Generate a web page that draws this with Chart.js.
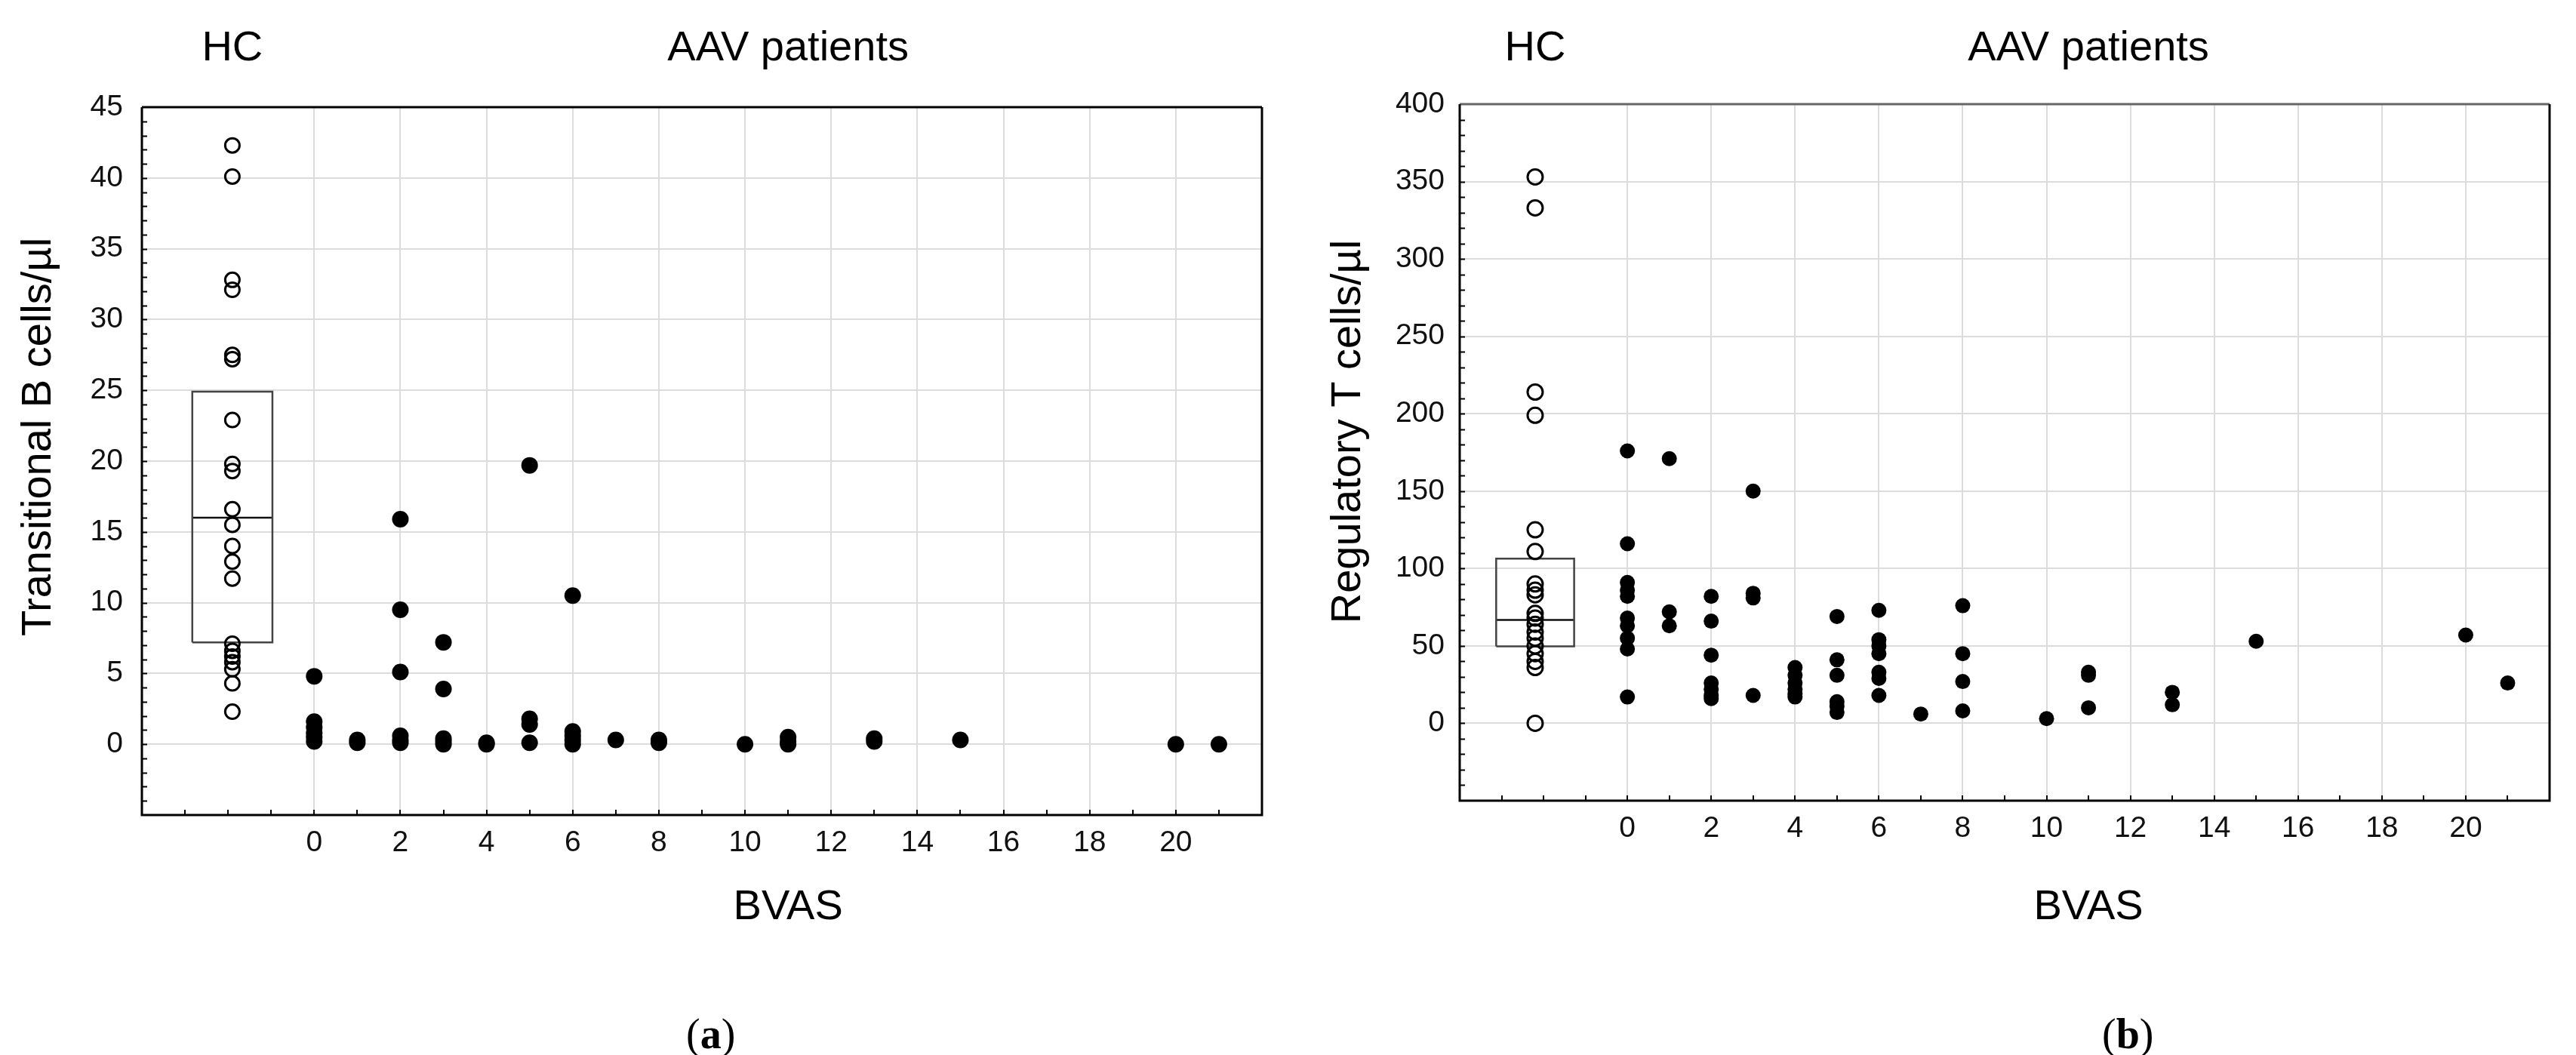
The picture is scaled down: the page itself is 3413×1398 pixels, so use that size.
<!DOCTYPE html>
<html>
<head>
<meta charset="utf-8">
<script src="https://cdn.jsdelivr.net/npm/chart.js@4.4.1/dist/chart.umd.min.js"></script>
<style>
  html, body { margin: 0; padding: 0; background: #fff; width: 3413px; height: 1398px; overflow: hidden; }
  canvas { position: absolute; top: 0; }
  #chartA { left: 0; }
  #chartB { left: 1706px; }
  .panel-tag { position: absolute; top: 1342px; font-family: 'Liberation Serif', 'DejaVu Serif', serif; font-size: 56px; line-height: 56px; color: #000; }
</style>
</head>
<body>
<canvas id="chartA" width="1706" height="1398"></canvas>
<canvas id="chartB" width="1707" height="1398"></canvas>
<div class="panel-tag" style="left:909px">(<b>a</b>)</div>
<div class="panel-tag" style="left:2785px">(<b>b</b>)</div>
<script>
// healthy controls, transitional B cells/µl
const hcTransB = [42.3, 40.1, 32.8, 32.1, 27.5, 27.2, 22.9, 19.8, 19.3, 16.6, 15.5, 14.0, 12.9, 11.7, 7.1, 6.6, 6.2, 5.8, 5.3, 4.3, 2.3];
// HC box: lower quartile, median, upper quartile
const hcBoxTransB = [7.2, 16.0, 24.9];
// AAV patients: BVAS and transitional B cells/µl
const bvasA = [0, 0, 0, 0, 0, 0, 1, 1, 2, 2, 2, 2, 2, 2, 3, 3, 3, 3, 3, 4, 4, 5, 5, 5, 5, 6, 6, 6, 6, 6, 7, 8, 8, 10, 11, 11, 11, 13, 13, 15, 20, 21];
const transB = [4.8, 1.6, 1.2, 0.8, 0.5, 0.2, 0.3, 0.1, 15.9, 9.5, 5.1, 0.6, 0.3, 0.1, 7.2, 3.9, 0.4, 0.2, 0.0, 0.1, 0.0, 19.7, 1.8, 1.4, 0.1, 10.5, 0.9, 0.6, 0.3, 0.0, 0.3, 0.3, 0.1, 0.0, 0.5, 0.2, 0.0, 0.4, 0.2, 0.3, 0.0, 0.0];

// healthy controls, regulatory T cells/µl
const hcTregs = [353, 333, 214, 199, 125, 111, 90, 86, 83, 71, 68, 64, 59, 55, 50, 45, 40, 36, 0];
const hcBoxTregs = [49.7, 66.8, 106.4];
// AAV patients: BVAS and regulatory T cells/µl
const bvasB = [0, 0, 0, 0, 0, 0, 0, 0, 0, 0, 1, 1, 1, 2, 2, 2, 2, 2, 2, 2, 3, 3, 3, 3, 4, 4, 4, 4, 4, 4, 5, 5, 5, 5, 5, 5, 6, 6, 6, 6, 6, 6, 6, 7, 8, 8, 8, 8, 10, 11, 11, 11, 13, 13, 15, 20, 21];
const tregs = [176, 116, 91, 86, 82, 68, 63, 55, 48, 17, 171, 72, 63, 82, 66, 44, 26, 22, 18, 16, 150, 84, 81, 18, 36, 31, 26, 22, 19, 17, 69, 41, 31, 14, 11, 7, 73, 54, 50, 45, 33, 29, 18, 6, 76, 45, 27, 8, 3, 33, 31, 10, 20, 12, 53, 57, 26];

const bvasLabels = [0, 2, 4, 6, 8, 10, 12, 14, 16, 18, 20];

const FONT = "'Liberation Sans', Arial, sans-serif";

const panelPlugin = {
  id: 'panel',
  afterDraw(chart, args, o) {
    const { ctx, chartArea: a, scales: { x, y } } = chart;
    ctx.save();
    // inner tick marks
    ctx.strokeStyle = '#000';
    ctx.lineWidth = 2;
    ctx.beginPath();
    y.ticks.forEach(t => {
      if (t.value <= y.min || t.value >= y.max) return;
      const py = Math.round(y.getPixelForValue(t.value)) + 0.5;
      ctx.moveTo(a.left, py); ctx.lineTo(a.left + 7, py);
    });
    x.ticks.forEach(t => {
      if (t.value <= x.min || t.value >= x.max) return;
      const px = Math.round(x.getPixelForValue(t.value));
      ctx.moveTo(px, a.bottom); ctx.lineTo(px, a.bottom - 7);
    });
    ctx.stroke();
    // frame
    ctx.lineWidth = 3;
    ctx.strokeStyle = o.topColor;
    ctx.beginPath(); ctx.moveTo(a.left, a.top); ctx.lineTo(a.right, a.top); ctx.stroke();
    ctx.strokeStyle = '#000';
    ctx.beginPath();
    ctx.moveTo(a.right, a.top); ctx.lineTo(a.right, a.bottom); ctx.lineTo(a.left, a.bottom); ctx.lineTo(a.left, a.top);
    ctx.stroke();
    // texts
    ctx.fillStyle = '#000';
    ctx.font = '56px ' + FONT;
    ctx.textAlign = 'center';
    ctx.textBaseline = 'alphabetic';
    ctx.fillText('HC', x.getPixelForValue(o.hcX), 80);
    ctx.fillText('AAV patients', x.getPixelForValue(11), 80);
    ctx.fillText('BVAS', x.getPixelForValue(11), 1218);
    ctx.translate(o.titleX, o.titleY);
    ctx.rotate(-Math.PI / 2);
    ctx.fillText(o.title, 0, 0);
    ctx.restore();
  }
};

function makePanel(id, cfg) {
  const hcPoints = cfg.hc.map(v => ({ x: cfg.hcX, y: v }));
  const aavPoints = cfg.bvas.map((b, i) => ({ x: b, y: cfg.values[i] }));
  const x0 = cfg.hcX - 0.93, x1 = cfg.hcX + 0.93;
  const [q1, med, q3] = cfg.box;
  const boxPoints = [{ x: x0, y: q1 }, { x: x1, y: q1 }, { x: x1, y: q3 }, { x: x0, y: q3 }, { x: x0, y: q1 }];
  const medianPoints = [{ x: x0, y: med }, { x: x1, y: med }];
  const tickFont = { family: FONT, size: 39 };

  new Chart(document.getElementById(id), {
    type: 'scatter',
    data: {
      datasets: [
        { data: boxPoints, showLine: true, borderColor: '#444', borderWidth: 2.5, pointRadius: 0, fill: false, order: 3 },
        { data: medianPoints, showLine: true, borderColor: '#111', borderWidth: 2.5, pointRadius: 0, fill: false, order: 3 },
        { data: hcPoints, pointRadius: cfg.hcR, pointBorderWidth: 3, pointBorderColor: '#000', pointBackgroundColor: 'rgba(0,0,0,0)', order: 2 },
        { data: aavPoints, pointRadius: cfg.dotR, pointBorderWidth: 0, pointBackgroundColor: '#000', order: 1 }
      ]
    },
    options: {
      responsive: false,
      animation: false,
      devicePixelRatio: 1,
      layout: { padding: { left: 0, top: cfg.top, right: cfg.right, bottom: 0 } },
      plugins: {
        legend: { display: false },
        tooltip: { enabled: false },
        panel: { hcX: cfg.hcX, title: cfg.title, titleX: cfg.titleX, titleY: cfg.titleY, topColor: cfg.topColor }
      },
      scales: {
        x: {
          type: 'linear', min: -4, max: 22,
          border: { display: false },
          grid: {
            drawTicks: false, lineWidth: 2,
            color: c => (c.tick && bvasLabels.includes(c.tick.value)) ? '#dcdcdc' : 'rgba(0,0,0,0)'
          },
          ticks: {
            stepSize: 1, autoSkip: false, maxRotation: 0, padding: 14, color: '#111', font: tickFont,
            callback: v => bvasLabels.includes(v) ? String(v) : ''
          },
          afterFit: s => { s.height = cfg.xHeight; }
        },
        y: {
          min: cfg.yMin, max: cfg.yMax,
          border: { display: false },
          grid: {
            drawTicks: false, lineWidth: 2,
            color: c => (c.tick && c.tick.value >= 0 && c.tick.value < cfg.yMax && c.tick.value % cfg.yLabelStep === 0) ? '#dcdcdc' : 'rgba(0,0,0,0)'
          },
          ticks: {
            stepSize: cfg.yMinor, autoSkip: false, padding: cfg.yPad, color: '#111', font: tickFont,
            callback: v => (v >= 0 && v % cfg.yLabelStep === 0) ? String(v) : ''
          },
          afterFit: s => { s.width = cfg.yWidth; }
        }
      }
    },
    plugins: [panelPlugin]
  });
}

makePanel('chartA', {
  hc: hcTransB, box: hcBoxTransB, bvas: bvasA, values: transB,
  hcX: -1.9, hcR: 9.5, dotR: 11,
  yMin: -5, yMax: 45, yMinor: 1, yLabelStep: 5, yPad: 25,
  yWidth: 188, xHeight: 318, top: 142, right: 34,
  title: 'Transitional B cells/µl', titleX: 67, titleY: 579, topColor: '#000'
});

makePanel('chartB', {
  hc: hcTregs, box: hcBoxTregs, bvas: bvasB, values: tregs,
  hcX: -2.2, hcR: 10, dotR: 10,
  yMin: -50, yMax: 400, yMinor: 10, yLabelStep: 50, yPad: 20,
  yWidth: 228, xHeight: 337, top: 138, right: 35,
  title: 'Regulatory T cells/µl', titleX: 96, titleY: 572, topColor: '#666'
});
</script>
</body>
</html>
